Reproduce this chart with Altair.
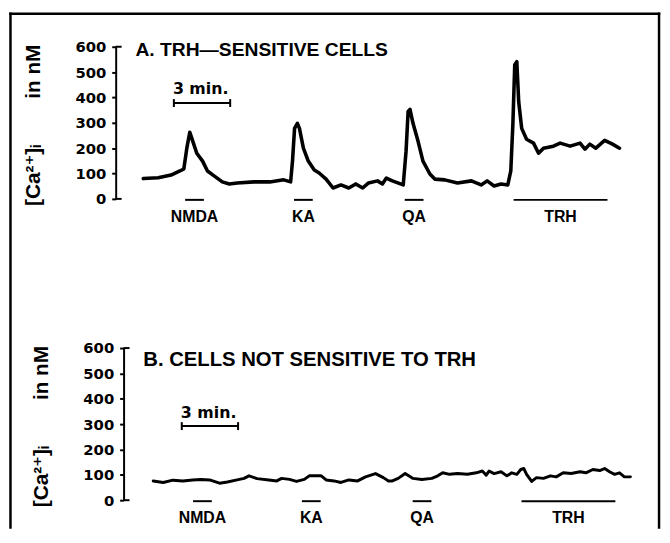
import altair as alt
import pandas as pd

# ---- data (time in minutes, [Ca2+]i in nM) ----
time_a = [1.47, 2.26, 2.95, 3.42, 3.63, 3.79, 3.95, 4.11, 4.32, 4.63, 4.89, 5.26, 5.68, 6.05, 6.47,
          7.37, 8.21, 8.95, 9.32, 9.42, 9.53, 9.68, 9.79, 10.0, 10.26, 10.58, 10.84, 11.21, 11.58,
          12.0, 12.42, 12.79, 13.16, 13.47, 13.95, 14.21, 14.42, 14.74, 15.32, 15.47, 15.58, 15.68,
          15.84, 16.11, 16.37, 16.74, 17.0, 17.53, 18.21, 18.95, 19.47, 19.79, 20.16, 20.53, 20.89,
          21.05, 21.16, 21.26, 21.37, 21.47, 21.63, 21.89, 22.26, 22.53, 22.79, 23.32, 23.68, 24.21,
          24.74, 25.0, 25.26, 25.58, 26.05, 26.47, 26.84]
ca_a = [80, 83, 94, 110, 118, 200, 263, 227, 180, 149, 110, 90, 67, 59, 63,
        67, 67, 75, 67, 149, 278, 298, 278, 200, 149, 114, 102, 78, 43,
        55, 43, 59, 43, 63, 71, 59, 82, 71, 55, 188, 345, 353,
        298, 227, 149, 98, 78, 75, 63, 71, 55, 71, 51, 59, 55,
        110, 294, 529, 541, 384, 278, 235, 220, 180, 200, 208, 220, 208,
        220, 196, 216, 200, 231, 216, 200]

time_b = [1.58, 2.11, 2.63, 3.16, 3.68, 4.11, 4.58, 5.11, 5.53, 6.05, 6.42, 6.68, 7.11, 7.74, 8.16,
          8.42, 8.84, 9.21, 9.63, 9.89, 10.53, 10.79, 11.21, 11.58, 12.0, 12.47, 12.89, 13.42, 13.84,
          14.11, 14.32, 14.63, 15.0, 15.42, 15.89, 16.42, 16.74, 17.0, 17.37, 17.79, 18.32, 18.79,
          19.11, 19.32, 19.47, 19.74, 20.11, 20.42, 20.68, 20.95, 21.16, 21.32, 21.47, 21.74, 22.0,
          22.37, 22.74, 23.05, 23.42, 23.84, 24.32, 24.63, 25.0, 25.37, 25.63, 25.89, 26.16, 26.42,
          26.68, 27.0]
ca_b = [76, 70, 79, 76, 80, 82, 80, 67, 72, 80, 86, 96, 85, 80, 76,
        86, 82, 74, 82, 96, 96, 80, 76, 70, 80, 76, 92, 105, 89,
        76, 76, 86, 105, 86, 82, 86, 96, 108, 102, 105, 102, 108,
        115, 99, 115, 105, 112, 96, 108, 102, 121, 125, 102, 74, 89,
        86, 96, 92, 108, 105, 112, 108, 121, 117, 125, 112, 102, 108,
        92, 92]

drugs = ["NMDA", "KA", "QA", "TRH"]
drug_on = [3.7, 9.5, 15.4, 21.2]
drug_off = [4.7, 10.5, 16.4, 26.2]

y_ticks = [0, 100, 200, 300, 400, 500, 600]
scale_start = [3.1]
scale_end = [6.1]
scale_label = ["3 min."]

title_a = "A. TRH\u2014SENSITIVE CELLS"
title_b = "B. CELLS NOT SENSITIVE TO TRH"
y_title = "[Ca\u00b2\u207a]\u1d62" + "\u00a0" * 8 + "in nM"

# ---- layout constants (pixels) ----
W = 521          # width of the plotting region
PH = 154         # height of each panel's axis
B_TOP = 305      # top of panel B's axis, below panel A's
TOTAL_H = B_TOP + PH
XMAX = W / 19.0
FONT = "Liberation Sans, Arial, DejaVu Sans"
one = pd.DataFrame({"k": [0]})


def panel(times, values, title, title_size, title_y, xoff, top, bar_y, text_y, lw, tag):
    xs = alt.Scale(domain=[0, XMAX], range=[xoff, W + xoff])
    ys = alt.Scale(domain=[0, 600], range=[top + PH, top], nice=False)
    bottom = top + PH
    trace_df = pd.DataFrame({"t": times, tag: values})
    trace = alt.Chart(trace_df).mark_line(color="black", strokeWidth=lw, strokeJoin="round",
                                          strokeCap="round").encode(
        x=alt.X("t:Q", scale=xs, axis=None),
        y=alt.Y(f"{tag}:Q", scale=ys,
                axis=alt.Axis(orient="left", values=y_ticks, title=y_title, offset=-xoff,
                              grid=False, domainColor="black", domainWidth=2, tickColor="black",
                              tickWidth=2, tickSize=4, labelFont="DejaVu Sans",
                              labelFontWeight="bold", labelFontSize=15, labelColor="black",
                              labelPadding=6, titleFont=FONT, titleFontWeight="bold",
                              titleFontSize=21, titleColor="black", titleX=-83,
                              titleY=top + PH / 2 + 2, titleAlign="center",
                              titleBaseline="middle")),
    )
    serif_top = alt.Chart(one).mark_rule(color="black", strokeWidth=2).encode(
        x=alt.value(xoff), x2=alt.value(xoff + 6), y=alt.value(top))
    serif_bot = alt.Chart(one).mark_rule(color="black", strokeWidth=2).encode(
        x=alt.value(xoff), x2=alt.value(xoff + 6), y=alt.value(bottom))

    drug_df = pd.DataFrame({"drug": drugs, "on": drug_on, "off": drug_off})
    bars = alt.Chart(drug_df).mark_rule(color="black", strokeWidth=2).encode(
        x=alt.X("on:Q", scale=xs, axis=None), x2="off:Q", y=alt.value(bottom + 1))
    labels = alt.Chart(drug_df).transform_calculate(mid="(datum.on + datum.off) / 2").mark_text(
        font=FONT, fontWeight="bold", fontSize=16, color="black", baseline="alphabetic",
        align="center").encode(
        x=alt.X("mid:Q", scale=xs, axis=None), y=alt.value(bottom + 23), text="drug:N")

    sb_df = pd.DataFrame({"s": scale_start, "e": scale_end, "lab": scale_label})
    sbar = alt.Chart(sb_df).mark_rule(color="black", strokeWidth=2).encode(
        x=alt.X("s:Q", scale=xs, axis=None), x2="e:Q", y=alt.value(top + bar_y))
    caps_df = pd.DataFrame({"p": scale_start + scale_end})
    caps = alt.Chart(caps_df).mark_rule(color="black", strokeWidth=2).encode(
        x=alt.X("p:Q", scale=xs, axis=None), y=alt.value(top + bar_y - 4),
        y2=alt.value(top + bar_y + 4))
    stext = alt.Chart(sb_df).mark_text(font="DejaVu Sans", fontWeight="bold", fontSize=16,
                                       color="black", align="left", baseline="alphabetic",
                                       dx=-1).encode(
        x=alt.X("s:Q", scale=xs, axis=None), y=alt.value(top + text_y), text="lab:N")

    ttext = alt.Chart(pd.DataFrame({"t": [title]})).mark_text(
        font=FONT, fontWeight="bold", fontSize=title_size, color="black", align="left",
        baseline="alphabetic").encode(x=alt.value(20 + xoff), y=alt.value(top + title_y),
                                      text="t:N")
    return [trace, serif_top, serif_bot, bars, labels, sbar, caps, stext, ttext]


layers_a = panel(time_a, ca_a, title_a, 19.5, 9, 0, 0, 57, 48, 3.6, "ca_a")
layers_b = panel(time_b, ca_b, title_b, 20.5, 18, 8, B_TOP, 79, 71, 3.0, "ca_b")

# figure frame (left, top, right; open at the bottom)
left_x, right_x, top_y, bot_y = -106.5, 550, -33.5, TOTAL_H + 29
frame_l = alt.Chart(one).mark_rule(color="black", strokeWidth=2.5, strokeJoin="round").encode(
    x=alt.value(left_x), y=alt.value(top_y - 1.25), y2=alt.value(bot_y))
frame_r = alt.Chart(one).mark_rule(color="black", strokeWidth=2.5, strokeJoin="round").encode(
    x=alt.value(right_x), y=alt.value(top_y - 1.25), y2=alt.value(bot_y))
frame_t = alt.Chart(one).mark_rule(color="black", strokeWidth=2.5, strokeJoin="round").encode(
    x=alt.value(left_x - 1.25), x2=alt.value(right_x + 1.25), y=alt.value(top_y))

chart = alt.layer(*layers_a, *layers_b, frame_l, frame_r, frame_t).resolve_scale(
    x="independent", y="independent"
).properties(
    width=W, height=TOTAL_H,
    padding={"left": 0, "top": 0, "right": 0, "bottom": 0}
).configure_view(stroke="transparent")

chart.save("out.html", embed_options={"renderer": "svg", "actions": False})
